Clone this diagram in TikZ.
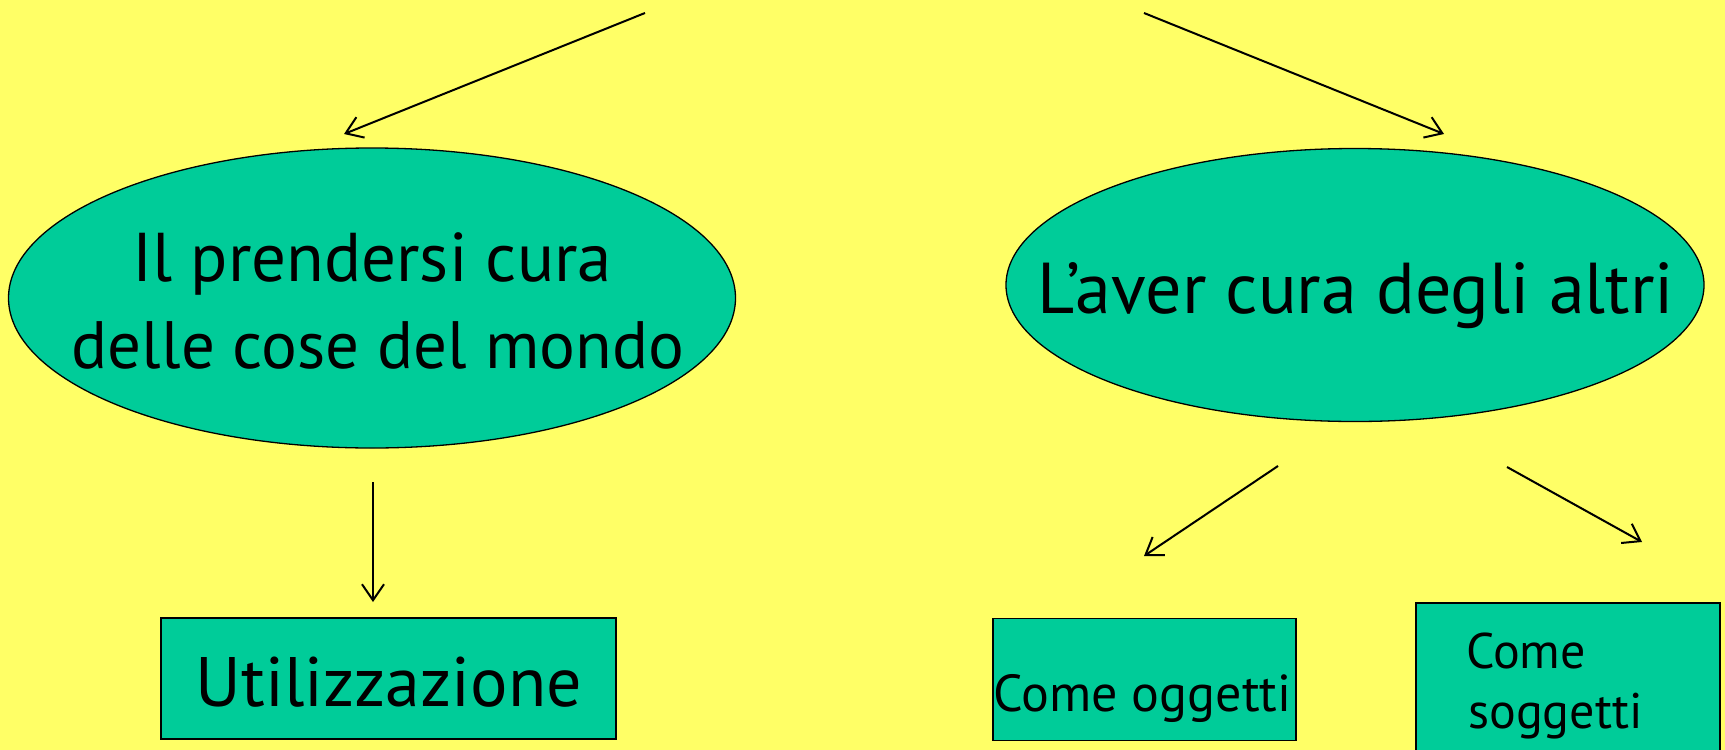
\documentclass[tikz,border=0pt]{standalone}
\usepackage{fontspec}
\setmainfont{PT Sans}
\usetikzlibrary{shapes.geometric,arrows.meta}
\definecolor{bgyellow}{HTML}{FFFF66}
\definecolor{tealgreen}{HTML}{00CC99}
\begin{document}
\begin{tikzpicture}[x=1pt,y=-1pt,
  oval/.style={ellipse,draw=black,line width=1.3pt,fill=tealgreen,inner sep=0pt},
  box/.style={rectangle,draw=black,line width=1.8pt,fill=tealgreen,inner sep=0pt},
  lbl/.style={inner sep=0pt,anchor=base},
  arr/.style={line width=2pt,-{Straight Barb[length=16pt,width=22pt]}}]
\fill[bgyellow] (0,0) rectangle (1725,750);
\useasboundingbox (0,0) rectangle (1725,750);
\clip (0,0) rectangle (1725,750);
% shapes
\node[oval,minimum width=727pt,minimum height=300pt] (cose) at (372,298) {};
\node[oval,minimum width=698pt,minimum height=273pt] (altri) at (1355,285) {};
\node[box,minimum width=455pt,minimum height=121pt] (util) at (388.5,678.5) {};
\node[box,minimum width=303pt,minimum height=122pt] (ogg) at (1144.5,679.5) {};
\node[box,minimum width=304pt,minimum height=167pt] (sogg) at (1568,686.5) {};
% texts
\node[lbl,font=\fontsize{69}{80}\selectfont] (cose1) at (372,281) {Il prendersi cura};
\node[lbl,font=\fontsize{67}{80}\selectfont] (cose2) at (378,368) {delle cose del mondo};
\node[lbl,font=\fontsize{72}{84}\selectfont] (altri1) at (1356,313) {L’aver cura degli altri};
\node[lbl,font=\fontsize{70}{80}\selectfont] (util1) at (389,706) {Utilizzazione};
\node[lbl,font=\fontsize{52}{60}\selectfont] (ogg1) at (1142.5,711) {Come oggetti};
\node[lbl,anchor=base west,font=\fontsize{50}{60}\selectfont] (sogg1) at (1466,668) {Come};
\node[lbl,anchor=base west,font=\fontsize{50}{60}\selectfont] (sogg2) at (1468,728) {soggetti};
% connector end points
\coordinate (a1s) at (645,13);   \coordinate (a1e) at (344,134);
\coordinate (a2s) at (1144,13);  \coordinate (a2e) at (1444,134);
\coordinate (a3s) at (373,482);  \coordinate (a3e) at (373,602);
\coordinate (a4s) at (1278,466); \coordinate (a4e) at (1144,556);
\coordinate (a5s) at (1507,467); \coordinate (a5e) at (1642,542);
\draw[arr] (a1s) -- (a1e);
\draw[arr] (a2s) -- (a2e);
\draw[arr] (a3s) -- (a3e);
\draw[arr] (a4s) -- (a4e);
\draw[arr] (a5s) -- (a5e);
\end{tikzpicture}
\end{document}
